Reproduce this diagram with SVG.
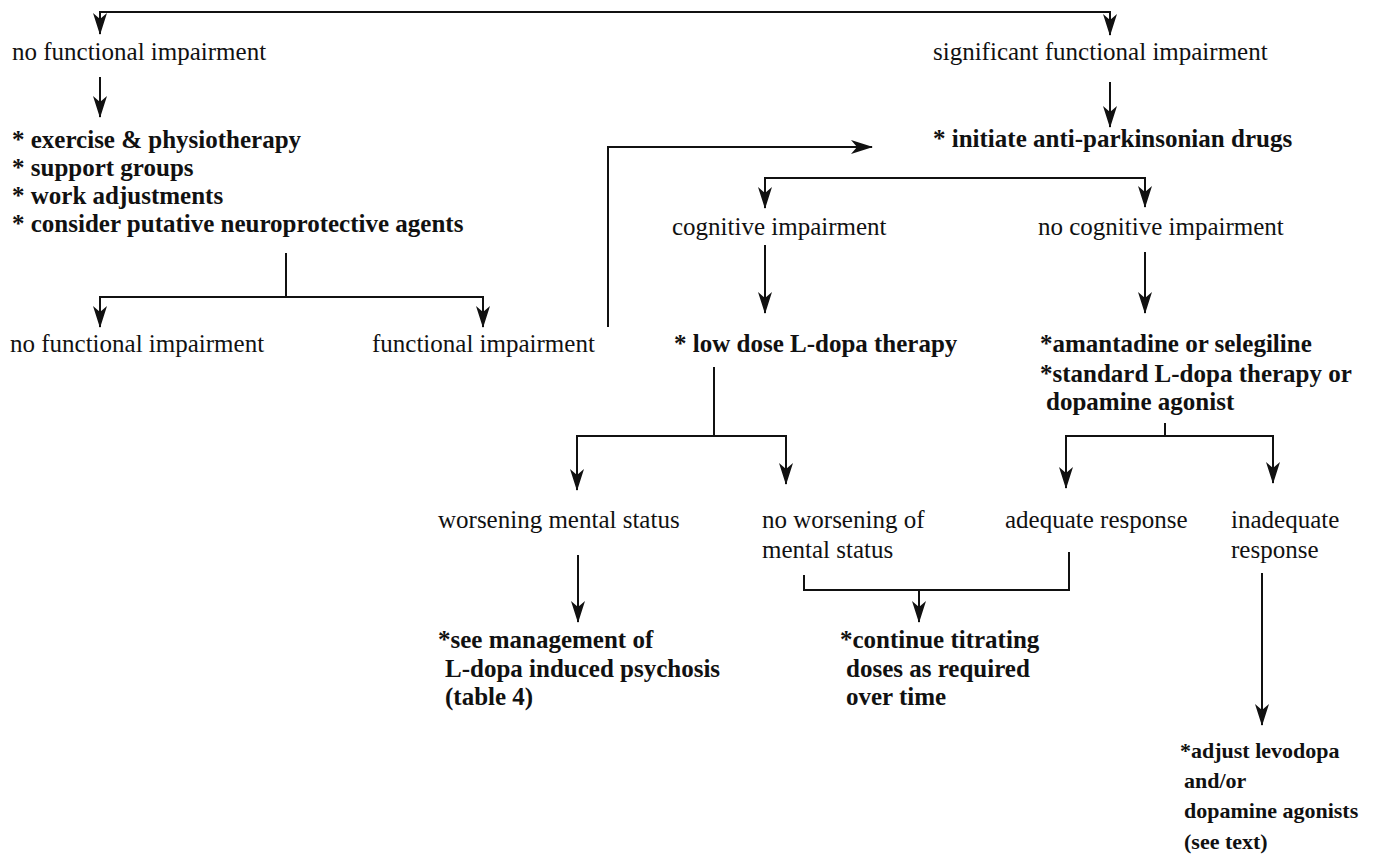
<svg xmlns="http://www.w3.org/2000/svg" width="1373" height="860" viewBox="0 0 1373 860">
<style>
text{font-family:"Liberation Serif","Times New Roman",serif;font-size:25px;fill:#111}
.b{font-weight:bold}
.s{font-size:22px}
.c path{fill:none;stroke:#111;stroke-width:2}
</style>
<defs>
<marker id="ah" markerUnits="userSpaceOnUse" markerWidth="26" markerHeight="18" viewBox="-24 -9 26 18" refX="0" refY="0" orient="auto-start-reverse">
<path d="M1,0 L-21,-7 L-15,0 L-21,7 Z" fill="#111"/>
</marker>
</defs>
<rect width="1373" height="860" fill="#fff"/>
<g class="c" id="connectors">
<path d="M100,34 V12 H1110 V35" marker-start="url(#ah)" marker-end="url(#ah)"/>
<path d="M100,77 V117" marker-end="url(#ah)"/>
<path d="M1110,82 V127" marker-end="url(#ah)"/>
<path d="M765,208 V178 H1145 V207" marker-start="url(#ah)" marker-end="url(#ah)"/>
<path d="M765,245 V313" marker-end="url(#ah)"/>
<path d="M1145,252 V313" marker-end="url(#ah)"/>
<path d="M286,253 V297"/>
<path d="M100,327 V297 H483 V327" marker-start="url(#ah)" marker-end="url(#ah)"/>
<path d="M608,327 V147 H872" marker-end="url(#ah)"/>
<path d="M714,367 V436"/>
<path d="M577,490 V436 H786 V484" marker-start="url(#ah)" marker-end="url(#ah)"/>
<path d="M1165,423 V436"/>
<path d="M1066,488 V436 H1273 V483" marker-start="url(#ah)" marker-end="url(#ah)"/>
<path d="M578,555 V622" marker-end="url(#ah)"/>
<path d="M804,575 V590 H1069 V552"/>
<path d="M919,590 V622" marker-end="url(#ah)"/>
<path d="M1262,573 V725" marker-end="url(#ah)"/>
</g>
<g id="n_nofunc_top"><text x="12" y="60">no functional impairment</text></g>
<g id="n_sigfunc"><text x="933" y="60">significant functional impairment</text></g>
<g id="n_measures">
<text class="b" x="12" y="148">* exercise &amp; physiotherapy</text>
<text class="b" x="12" y="176">* support groups</text>
<text class="b" x="12" y="204">* work adjustments</text>
<text class="b" x="12" y="232">* consider putative neuroprotective agents</text>
</g>
<g id="n_initiate"><text class="b" x="933" y="147">* initiate anti-parkinsonian drugs</text></g>
<g id="n_cog"><text x="672" y="235">cognitive impairment</text></g>
<g id="n_nocog"><text x="1038" y="235">no cognitive impairment</text></g>
<g id="n_nofunc2"><text x="10" y="352">no functional impairment</text></g>
<g id="n_func2"><text x="372" y="352">functional impairment</text></g>
<g id="n_lowdose"><text class="b" x="674" y="352">* low dose L-dopa therapy</text></g>
<g id="n_amant">
<text class="b" x="1040" y="352">*amantadine or selegiline</text>
<text class="b" x="1040" y="382">*standard L-dopa therapy or</text>
<text class="b" x="1046" y="410">dopamine agonist</text>
</g>
<g id="n_worse"><text x="438" y="528">worsening mental status</text></g>
<g id="n_noworse"><text x="762" y="528">no worsening of</text><text x="762" y="558">mental status</text></g>
<g id="n_adequate"><text x="1005" y="528">adequate response</text></g>
<g id="n_inadequate"><text x="1231" y="528">inadequate</text><text x="1231" y="558">response</text></g>
<g id="n_seemgmt">
<text class="b" x="438" y="648">*see management of</text>
<text class="b" x="445" y="677">L-dopa induced psychosis</text>
<text class="b" x="445" y="705">(table 4)</text>
</g>
<g id="n_continue">
<text class="b" x="840" y="648">*continue titrating</text>
<text class="b" x="846" y="677">doses as required</text>
<text class="b" x="846" y="705">over time</text>
</g>
<g id="n_adjust">
<text class="b s" x="1180" y="758">*adjust levodopa</text>
<text class="b s" x="1184" y="788">and/or</text>
<text class="b s" x="1184" y="818">dopamine agonists</text>
<text class="b s" x="1184" y="849">(see text)</text>
</g>
</svg>
